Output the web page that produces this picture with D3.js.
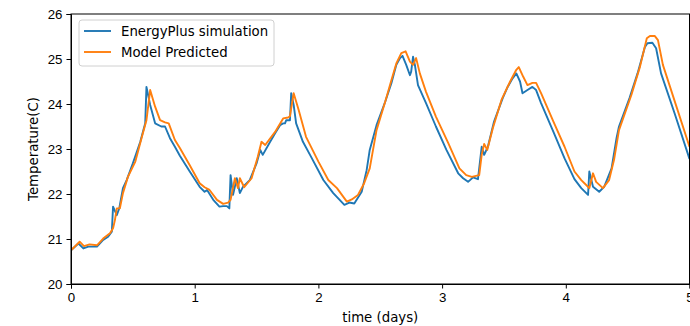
<!DOCTYPE html>
<html>
<head>
<meta charset="utf-8">
<script src="https://cdn.jsdelivr.net/npm/d3@7"></script>
<style>
  body { margin: 0; background: #fff; }
  svg { font-family: "DejaVu Sans", sans-serif; }
  .axis text { font-size: 13.3px; fill: #000; }
  .axis path, .axis line { stroke: #000; stroke-width: 1; }
</style>
</head>
<body>
<svg width="690" height="326"></svg>
<script>
// EnergyPlus simulation (days, degC)
var simTime = [0, 0.06, 0.10, 0.14, 0.21, 0.26, 0.30, 0.33, 0.34, 0.37, 0.39, 0.42, 0.45, 0.50, 0.56, 0.60, 0.61, 0.64, 0.68, 0.73, 0.76, 0.80, 0.84, 0.88, 0.96,
  1.04, 1.08, 1.10, 1.15, 1.20, 1.23, 1.26, 1.28, 1.29, 1.31, 1.34, 1.365, 1.39, 1.445, 1.50, 1.53, 1.55, 1.61, 1.65, 1.69, 1.715, 1.73, 1.74, 1.77, 1.78, 1.80, 1.82, 1.875, 1.94,
  2.04, 2.12, 2.21, 2.25, 2.29, 2.35, 2.39, 2.415, 2.47, 2.54, 2.59, 2.63, 2.66, 2.68, 2.71, 2.74, 2.75, 2.765, 2.78, 2.805, 2.87, 2.95,
  3.035, 3.13, 3.17, 3.21, 3.25, 3.29, 3.32, 3.34, 3.37, 3.42, 3.49, 3.53, 3.57, 3.60, 3.63, 3.65, 3.69, 3.73, 3.76, 3.80, 3.90, 3.99,
  4.07, 4.125, 4.18, 4.19, 4.22, 4.27, 4.31, 4.37, 4.41, 4.43, 4.515, 4.58, 4.64, 4.66, 4.70, 4.73, 4.77, 4.88, 5.00];
var simTemp = [20.75, 20.9, 20.79, 20.83, 20.83, 20.98, 21.05, 21.16, 21.72, 21.53, 21.68, 22.13, 22.31, 22.68, 23.16, 23.57, 24.38, 23.98, 23.57, 23.5, 23.5, 23.24, 23.05, 22.85, 22.5,
  22.16, 22.05, 22.09, 21.87, 21.72, 21.73, 21.73, 21.68, 22.42, 21.98, 22.35, 22.02, 22.16, 22.31, 22.68, 22.98, 22.87, 23.16, 23.35, 23.53, 23.57, 23.57, 23.64, 23.64, 24.24, 23.98, 23.57, 23.16, 22.83,
  22.31, 22.02, 21.76, 21.81, 21.79, 22.05, 22.53, 22.98, 23.53, 24.05, 24.46, 24.87, 25.02, 25.07, 24.87, 24.64, 24.72, 25.05, 24.87, 24.42, 24.02, 23.5,
  22.98, 22.46, 22.35, 22.27, 22.37, 22.33, 23.05, 22.87, 23.05, 23.61, 24.13, 24.38, 24.57, 24.68, 24.5, 24.24, 24.31, 24.38, 24.31, 24.02, 23.38, 22.79,
  22.33, 22.13, 21.98, 22.5, 22.16, 22.05, 22.16, 22.57, 23.24, 23.5, 24.13, 24.68, 25.27, 25.35, 25.36, 25.24, 24.68, 23.79, 22.78];

// Model predicted (days, degC)
var predTime = [0, 0.07, 0.105, 0.15, 0.21, 0.26, 0.315, 0.34, 0.355, 0.37, 0.395, 0.42, 0.46, 0.52, 0.57, 0.61, 0.64, 0.68, 0.72, 0.76, 0.79, 0.84, 0.88, 0.96,
  1.04, 1.08, 1.12, 1.18, 1.23, 1.27, 1.29, 1.325, 1.35, 1.365, 1.40, 1.46, 1.51, 1.54, 1.57, 1.65, 1.715, 1.755, 1.77, 1.80, 1.84, 1.90,
  2.00, 2.08, 2.15, 2.23, 2.27, 2.32, 2.37, 2.415, 2.47, 2.54, 2.59, 2.63, 2.67, 2.705, 2.74, 2.765, 2.79, 2.82, 2.87, 2.95,
  3.05, 3.14, 3.195, 3.24, 3.30, 3.32, 3.34, 3.365, 3.41, 3.48, 3.55, 3.60, 3.62, 3.655, 3.69, 3.73, 3.76, 3.80, 3.90, 3.99,
  4.07, 4.125, 4.165, 4.19, 4.22, 4.245, 4.30, 4.35, 4.39, 4.43, 4.53, 4.60, 4.655, 4.68, 4.72, 4.745, 4.785, 4.89, 5.00];
var predTemp = [20.75, 20.94, 20.84, 20.88, 20.86, 21.01, 21.13, 21.24, 21.42, 21.68, 21.68, 22.02, 22.38, 22.72, 23.24, 23.64, 24.31, 23.94, 23.64, 23.59, 23.57, 23.2, 23.02, 22.64,
  22.24, 22.15, 22.09, 21.87, 21.78, 21.81, 21.87, 22.35, 22.13, 22.35, 22.15, 22.35, 22.83, 23.16, 23.09, 23.38, 23.68, 23.7, 23.73, 24.24, 23.87, 23.27,
  22.72, 22.31, 22.13, 21.83, 21.88, 21.98, 22.24, 22.57, 23.42, 24.05, 24.53, 24.9, 25.13, 25.17, 24.94, 24.87, 25.02, 24.68, 24.27, 23.72,
  23.13, 22.57, 22.42, 22.38, 22.42, 22.87, 23.11, 22.98, 23.46, 24.09, 24.5, 24.76, 24.82, 24.61, 24.42, 24.47, 24.47, 24.24, 23.61, 23.05,
  22.5, 22.31, 22.2, 22.13, 22.46, 22.27, 22.13, 22.31, 22.76, 23.42, 24.2, 24.83, 25.46, 25.51, 25.51, 25.42, 24.87, 23.98, 23.05];

var xTicks = [0, 1, 2, 3, 4, 5];
var yTicks = [20, 21, 22, 23, 24, 25, 26];

var svg = d3.select("svg"),
    margin = {top: 14, right: 0.5, bottom: 42, left: 71},
    width = +svg.attr("width") - margin.left - margin.right,
    height = +svg.attr("height") - margin.top - margin.bottom;

var x = d3.scaleLinear().domain([0, 5]).range([0, width]),
    y = d3.scaleLinear().domain([20, 26]).range([height, 0]);

var g = svg.append("g")
    .attr("transform", "translate(" + margin.left + "," + margin.top + ")");

var series = [
  {name: "EnergyPlus simulation", color: "#1f77b4", t: simTime, v: simTemp},
  {name: "Model Predicted", color: "#ff7f0e", t: predTime, v: predTemp}
];

var line = d3.line()
    .x(function(d) { return x(d[0]); })
    .y(function(d) { return y(d[1]); });

g.append("clipPath").attr("id", "clip")
  .append("rect").attr("width", width).attr("height", height);

g.selectAll(".series")
  .data(series)
  .enter().append("path")
    .attr("class", "series")
    .attr("clip-path", "url(#clip)")
    .attr("fill", "none")
    .attr("stroke", function(d) { return d.color; })
    .attr("stroke-width", 1.9)
    .attr("stroke-linejoin", "round")
    .attr("d", function(d) { return line(d.t.map(function(t, i) { return [t, d.v[i]]; })); });

// assen
g.append("g")
    .attr("class", "axis")
    .attr("transform", "translate(0," + height + ")")
    .call(d3.axisBottom(x).tickValues(xTicks).tickFormat(d3.format("d")).tickSizeOuter(0).tickSize(4.5).tickPadding(4));

g.append("g")
    .attr("class", "axis")
    .call(d3.axisLeft(y).tickValues(yTicks).tickFormat(d3.format("d")).tickSizeOuter(0).tickSize(4.5).tickPadding(4));

// kader
g.append("rect")
    .attr("width", width).attr("height", height)
    .attr("fill", "none").attr("stroke", "#000").attr("stroke-width", 1);

svg.append("text")
    .attr("x", margin.left + width / 2).attr("y", 322)
    .attr("text-anchor", "middle").attr("font-size", "13.3px")
    .text("time (days)");

svg.append("text")
    .attr("transform", "translate(38," + (margin.top + height / 2) + ") rotate(-90)")
    .attr("text-anchor", "middle").attr("font-size", "13.3px")
    .text("Temperature(C)");

// legenda
var legend = g.append("g").attr("transform", "translate(8,6)");
legend.append("rect")
    .attr("width", 195).attr("height", 46).attr("rx", 3)
    .attr("fill", "#fff").attr("fill-opacity", 0.8)
    .attr("stroke", "#d0d0d0");
var item = legend.selectAll(".item")
  .data(series)
  .enter().append("g")
    .attr("transform", function(d, i) { return "translate(0," + (11 + i * 21) + ")"; });
item.append("line")
    .attr("x1", 5).attr("x2", 32)
    .attr("stroke", function(d) { return d.color; })
    .attr("stroke-width", 1.9);
item.append("text")
    .attr("x", 42).attr("dy", "0.35em")
    .attr("font-size", "13.3px")
    .text(function(d) { return d.name; });
</script>
</body>
</html>
